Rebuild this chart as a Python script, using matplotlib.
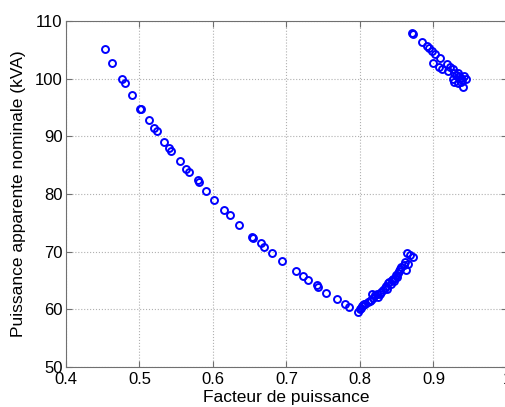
import matplotlib.pyplot as plt
import numpy as np

plt.rcParams['font.family'] = ['Liberation Sans', 'DejaVu Sans']

# branche descendante (0.45 -> 0.80)
fp_desc = [0.453, 0.463, 0.4765, 0.480, 0.490, 0.501, 0.502, 0.513, 0.520, 0.524,
           0.534, 0.540, 0.543, 0.555, 0.563, 0.568, 0.579, 0.581, 0.590, 0.602,
           0.615, 0.623, 0.636, 0.653, 0.655, 0.665, 0.670, 0.680, 0.694, 0.713,
           0.722, 0.729, 0.741, 0.743, 0.754, 0.769, 0.780, 0.785, 0.798]
s_desc = [105.1, 102.7, 99.9, 99.2, 97.1, 94.8, 94.7, 92.8, 91.4, 90.9,
          89.1, 88.0, 87.5, 85.8, 84.4, 83.8, 82.4, 82.1, 80.6, 78.95,
          77.3, 76.3, 74.6, 72.6, 72.4, 71.5, 70.8, 69.8, 68.4, 66.7,
          65.8, 65.1, 64.2, 63.9, 62.9, 61.7, 60.9, 60.4, 59.6]

# branche montante (0.80 -> 0.87)
fp_mont = [0.7995, 0.802, 0.803, 0.8045, 0.806, 0.807, 0.811, 0.813, 0.8155, 0.816,
           0.818, 0.820, 0.8236, 0.825, 0.827, 0.829, 0.831, 0.834, 0.836, 0.837,
           0.838, 0.840, 0.842, 0.843, 0.845, 0.846, 0.848, 0.8495, 0.851, 0.852,
           0.853, 0.855, 0.856, 0.860, 0.861, 0.863, 0.8655, 0.8645, 0.868, 0.872]
s_mont = [60.0, 60.3, 60.5, 60.7, 60.9, 60.9, 61.3, 61.4, 61.6, 62.6,
          61.9, 62.4, 62.6, 62.2, 62.7, 63.0, 63.3, 63.7, 64.0, 63.6,
          64.5, 64.7, 64.3, 65.0, 65.3, 64.9, 65.5, 65.9, 65.6, 66.3,
          66.6, 67.0, 67.4, 67.6, 68.2, 66.9, 67.9, 69.7, 69.5, 69.1]

# groupe en haut a droite
fp_haut = [0.8714, 0.8728, 0.885, 0.891, 0.8946, 0.8986, 0.9018, 0.909, 0.900, 0.907,
           0.912, 0.919, 0.9226, 0.920, 0.926, 0.928, 0.930, 0.9335, 0.935, 0.937,
           0.926, 0.928, 0.9335, 0.9395, 0.9417, 0.944, 0.9408, 0.938]
s_haut = [108.0, 107.7, 106.3, 105.7, 105.3, 104.8, 104.3, 103.6, 102.8, 102.0,
          101.6, 102.6, 102.1, 101.3, 101.6, 101.0, 100.7, 101.0, 100.4, 100.1,
          99.9, 99.5, 99.25, 99.8, 100.4, 99.9, 98.6, 99.4]

fp = fp_desc + fp_mont + fp_haut
s = s_desc + s_mont + s_haut

fig = plt.figure(figsize=(5.06, 4.07), dpi=100)
ax = fig.add_axes([0.1304, 0.0985, 0.8715, 0.8497])
ax.plot(fp, s, 'o', linestyle='none', markerfacecolor='none',
        markeredgecolor='#0000ff', markersize=5, markeredgewidth=1.4)

ax.set_xlim(0.4, 1.0)
ax.set_ylim(50, 110)
ax.set_xticks(np.arange(0.4, 1.01, 0.1))
ax.set_xticklabels(['0.4', '0.5', '0.6', '0.7', '0.8', '0.9', '1'])
ax.set_yticks(np.arange(50, 111, 10))
ax.grid(True, linestyle=':', color='#b0b0b0', linewidth=0.8)
ax.tick_params(direction='in', top=True, right=True, labelsize=12,
               color='#707070', length=4)
ax.tick_params(axis='x', pad=4)
ax.tick_params(axis='y', pad=2.5)
for sp in ax.spines.values():
    sp.set_color('#707070')
ax.set_xlabel('Facteur de puissance', fontsize=12.5, labelpad=2)
ax.set_ylabel('Puissance apparente nominale (kVA)', fontsize=12.5, labelpad=6)

fig.savefig('out.png', dpi=100)
